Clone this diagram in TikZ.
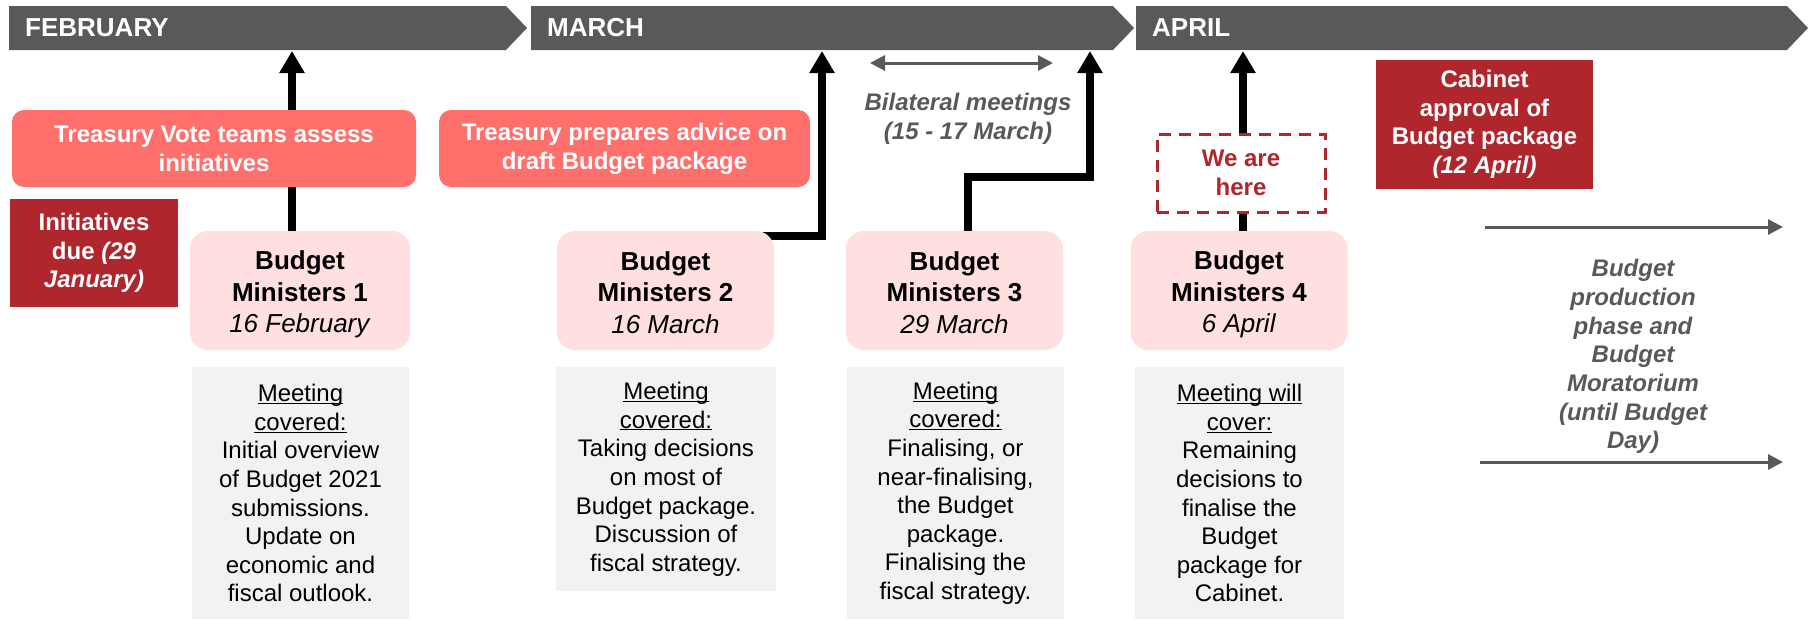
\documentclass[tikz,border=0pt]{standalone}
\usepackage{fontspec}
\setmainfont{Liberation Sans}
\usetikzlibrary{arrows.meta,backgrounds}

\definecolor{bargrey}{HTML}{595959}
\definecolor{salmon}{HTML}{FF6F6B}
\definecolor{deepred}{HTML}{B0262D}
\definecolor{palepink}{HTML}{FFDFE0}
\definecolor{notegrey}{HTML}{F2F2F2}

\newcommand{\ulword}[1]{\rule{0pt}{17.5pt}\underline{\smash{#1}}}
\newcommand{\bmtop}{\rule{0pt}{27pt}}
\newcommand{\bmbottom}{\rule[-5pt]{0pt}{5pt}}

\tikzset{
	greytip/.tip={Triangle[width=15pt,length=15pt]},
	monthlabel/.style={anchor=west, inner sep=0pt, minimum height=44pt, text=white, font=\fontsize{26}{30}\selectfont\bfseries},
	task/.style={fill=salmon, rounded corners=12pt, text=white, align=center, minimum height=77pt, font=\fontsize{24}{29}\selectfont\bfseries},
	deadline/.style={fill=deepred, text=white, align=center, font=\fontsize{24}{28.5}\selectfont\bfseries},
	meeting/.style={fill=palepink, rounded corners=18pt, align=center, minimum width=217pt, minimum height=119pt, font=\fontsize{26}{31.5}\selectfont\bfseries},
	notes/.style={fill=notegrey, anchor=north, align=center, minimum width=217pt, font=\fontsize{24}{28.6}\selectfont},
	phase/.style={text=bargrey, align=center, font=\fontsize{24}{28.7}\selectfont\bfseries\itshape},
	herebox/.style={draw=deepred, line width=3pt, dash pattern=on 12pt off 8pt, fill=white, text=deepred, align=center, minimum width=168pt, minimum height=78pt, font=\fontsize{24}{29}\selectfont\bfseries},
	bigarrow/.style={line width=8pt, -{Triangle[width=24pt,length=22pt]}},
	greyarrow/.style={draw=bargrey, line width=3pt, -greytip},
}

\begin{document}
\begin{tikzpicture}[x=1pt,y=-1pt]
	\useasboundingbox (0,0) rectangle (1810,619);
	\foreach \a/\b/\m/\t in {9/506/feb/FEBRUARY, 531/1113/mar/MARCH, 1136/1787/apr/APRIL} {
		\fill[bargrey] (\a,6) -- (\b,6) -- (\b+21,28) -- (\b,50) -- (\a,50) -- cycle;
		\node[monthlabel] (\m) at (\a+16,28) {\t};
	}
	\node[task, minimum width=404pt] (vote) at (214,148.5) {Treasury Vote teams assess\\initiatives};
	\node[task, minimum width=371pt] (advice) at (624.5,148.5) {Treasury prepares advice on\\draft Budget package};
	\node[deadline, minimum width=168pt, minimum height=108pt] (due) at (94,253) {Initiatives\\due \textit{(29}\\\textit{January)}};
	\node[deadline, minimum width=217pt, minimum height=129pt] (cabinet) at (1484.5,124.5) {Cabinet\\approval of\\Budget package\\\textit{(12 April)}};
	\node[meeting, minimum width=220pt] (bm1) at (300,290.5) {\bmtop Budget\\Ministers 1\\\textit{\mdseries 16 February}\bmbottom};
	\node[meeting] (bm2) at (665.5,290.5) {\bmtop Budget\\Ministers 2\\\textit{\mdseries 16 March}\bmbottom};
	\node[meeting] (bm3) at (954.5,290.5) {\bmtop Budget\\Ministers 3\\\textit{\mdseries 29 March}\bmbottom};
	\node[meeting] (bm4) at (1239,290.5) {\bmtop Budget\\Ministers 4\\\textit{\mdseries 6 April}\bmbottom};
	\node[notes, minimum height=252pt] (notes1) at (300.5,367) {\ulword{Meeting}\\\ulword{covered:}\\Initial overview\\of Budget 2021\\submissions.\\Update on\\economic and\\fiscal outlook.};
	\node[notes, minimum width=220pt, minimum height=224pt] (notes2) at (666,367) {\ulword{Meeting}\\\ulword{covered:}\\Taking decisions\\on most of\\Budget package.\\Discussion of\\fiscal strategy.};
	\node[notes, minimum height=252pt] (notes3) at (955.5,367) {\ulword{Meeting}\\\ulword{covered:}\\Finalising, or\\near-finalising,\\the Budget\\package.\\Finalising the\\fiscal strategy.};
	\node[notes, minimum width=209pt, minimum height=252pt] (notes4) at (1239.5,367) {\ulword{Meeting will}\\\ulword{cover:}\\Remaining\\decisions to\\finalise the\\Budget\\package for\\Cabinet.};
	\node[herebox] (here) at (1241,173) {We are\\here};
	\node[phase] (bilateral) at (968,118.5) {Bilateral meetings\\(15 - 17 March)};
	\node[phase] (production) at (1633,356.5) {Budget\\production\\phase and\\Budget\\Moratorium\\(until Budget\\Day)};
	\coordinate (top1) at (292,51);
	\coordinate (top2) at (822,51);
	\coordinate (top3) at (1090,51);
	\coordinate (top4) at (1243,51);
	\coordinate (bilat start) at (870,63);
	\coordinate (bilat end) at (1053,63);
	\coordinate (phase start) at (1485,227);
	\coordinate (phase end) at (1783,227);
	\coordinate (moratorium start) at (1480,462);
	\coordinate (moratorium end) at (1783,462);
	\begin{pgfonlayer}{background}
		\draw[bigarrow] (bm1.north -| top1) -- (top1);
		\draw[bigarrow] ([xshift=-20pt,yshift=-5pt]bm2.north east) -| (top2);
		\draw[bigarrow] ([xshift=13pt,yshift=-4pt]bm3.north) -- ++(0,-58) -| (top3);
		\draw[bigarrow] (bm4.north -| top4) -- (top4);
	\end{pgfonlayer}
	\draw[greyarrow, greytip-greytip] (bilat start) -- (bilat end);
	\draw[greyarrow] (phase start) -- (phase end);
	\draw[greyarrow] (moratorium start) -- (moratorium end);
\end{tikzpicture}
\end{document}
